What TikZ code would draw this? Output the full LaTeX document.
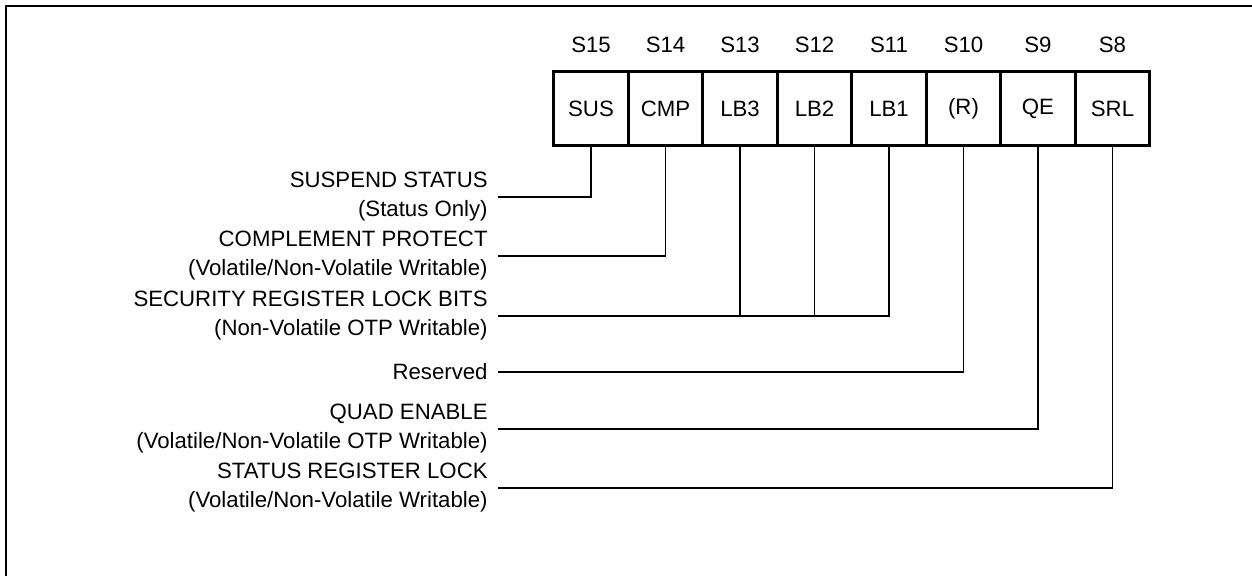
\documentclass[tikz,border=0pt]{standalone}
\usepackage{fontspec}
\setmainfont{Liberation Sans}
\usetikzlibrary{positioning}
\tikzset{
  bitcell/.style ={draw,line width=1.5pt,minimum width=37.25pt,minimum height=37pt,inner sep=0pt},
  bitnum/.style  ={inner sep=0pt},
  desc/.style    ={align=right,anchor=east,inner sep=5pt},
  wire/.style    ={line width=0.85pt},
  frame/.style   ={line width=1pt},
}
\begin{document}
\begin{tikzpicture}[x=0.5pt,y=-0.5pt,font=\fontsize{11.1}{14.5}\selectfont]
  \useasboundingbox (0,0) rectangle (1252,576);
  \draw[frame] (6,576) -- (6,6) -- (1252,6);
  % register cells
  \node[bitcell] (s15) at (591,109)    {SUS};
  \node[bitcell] (s14) at (665.5,109)  {CMP};
  \node[bitcell] (s13) at (740,109)    {LB3};
  \node[bitcell] (s12) at (814.5,109)  {LB2};
  \node[bitcell] (s11) at (889,109)    {LB1};
  \node[bitcell] (s10) at (963.5,109)  {(R)};
  \node[bitcell] (s9)  at (1038,109)   {QE};
  \node[bitcell] (s8)  at (1112.5,109) {SRL};
  % bit numbers
  \node[bitnum] (n15) at (591,45)    {S15};
  \node[bitnum] (n14) at (665.5,45)  {S14};
  \node[bitnum] (n13) at (740,45)    {S13};
  \node[bitnum] (n12) at (814.5,45)  {S12};
  \node[bitnum] (n11) at (889,45)    {S11};
  \node[bitnum] (n10) at (963.5,45)  {S10};
  \node[bitnum] (n9)  at (1038,45)   {S9};
  \node[bitnum] (n8)  at (1112.5,45) {S8};
  % descriptions
  \node[desc] (dsus) at (498,197) {SUSPEND STATUS\\(Status Only)};
  \node[desc] (dcmp) at (498,256) {COMPLEMENT PROTECT\\(Volatile/Non-Volatile Writable)};
  \node[desc] (dlb)  at (498,316) {SECURITY REGISTER LOCK BITS\\(Non-Volatile OTP Writable)};
  \node[desc] (dres) at (498,372) {Reserved};
  \node[desc] (dqe)  at (498,429) {QUAD ENABLE\\(Volatile/Non-Volatile OTP Writable)};
  \node[desc] (dsrl) at (498,488) {STATUS REGISTER LOCK\\(Volatile/Non-Volatile Writable)};
  % connectors
  \draw[wire] (dsus.east) -| (s15.south);
  \draw[wire] (dcmp.east) -| (s14.south);
  \draw[wire] (dlb.east)  -| (s11.south);
  \draw[wire] (s13.south) -- (s13.south |- dlb.east);
  \draw[wire] (s12.south) -- (s12.south |- dlb.east);
  \draw[wire] (dres.east) -| (s10.south);
  \draw[wire] (dqe.east)  -| (s9.south);
  \draw[wire] (dsrl.east) -| (s8.south);
\end{tikzpicture}
\end{document}
